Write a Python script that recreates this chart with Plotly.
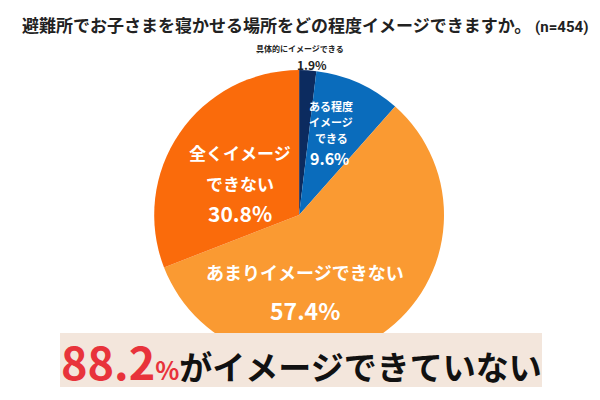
import plotly.graph_objects as go

labels = ['具体的にイメージできる', 'ある程度イメージできる', 'あまりイメージできない', '全くイメージできない']
values = [1.9, 9.6, 57.4, 30.8]
colors = ['#0c2b5f', '#0a6cbc', '#fa9a32', '#fa6b0b']
n_total = 454
summary = 88.2

font_jp = 'Noto Sans CJK JP'

pie = go.Pie(labels=labels,
             values=values,
             sort=False,
             direction='clockwise',
             rotation=0,
             marker={'colors': colors, 'line': {'width': 0}},
             textinfo='none',
             hoverinfo='label+percent',
             showlegend=False,
             domain={'x': [0.257, 0.74], 'y': [0.1, 0.825]})

fig = go.Figure(data=[pie])

def ann(x, y, text, size, color='white'):
    fig.add_annotation(x=x / 600, y=1 - y / 400, xref='paper', yref='paper',
                       xanchor='center', yanchor='middle',
                       text='<b>' + text + '</b>', showarrow=False,
                       font={'family': font_jp, 'size': size, 'color': color})

# タイトル
fig.add_annotation(x=20 / 600, y=1 - 24 / 400, xref='paper', yref='paper',
                   xanchor='left', yanchor='middle',
                   text='<b>避難所でお子さまを寝かせる場所をどの程度イメージできますか。</b>'
                        '<span style="font-family:Roboto;font-size:15px;"><b> (n=' + str(n_total) + ')</b></span>',
                   showarrow=False, font={'family': font_jp, 'size': 17, 'color': '#222222'})

# ラベル
ann(300, 48, labels[0], 8, '#222222')
ann(312, 64, '%.1f%%' % values[0], 12, '#222222')

ann(331, 106, 'ある程度', 11)
ann(331, 122, 'イメージ', 11)
ann(331, 138, 'できる', 11)
ann(330, 158, '%.1f%%' % values[1], 16)

ann(240, 152, '全くイメージ', 17)
ann(240, 183, 'できない', 17)
ann(240, 213, '%.1f%%' % values[3], 21)

ann(305, 272, labels[2], 18)
ann(305, 310, '%.1f%%' % values[2], 23)

# 下の帯
fig.add_shape(type='rect', xref='paper', yref='paper',
              x0=60 / 600, x1=542 / 600, y0=1 - 387 / 400, y1=1 - 333 / 400,
              fillcolor='#f3e6dc', line={'width': 0}, layer='above')
fig.add_annotation(x=301 / 600, y=1 - 360 / 400, xref='paper', yref='paper',
                   xanchor='center', yanchor='middle',
                   text='<b><span style="color:#e8333b;font-size:45px;">%.1f</span>'
                        '<span style="color:#e8333b;font-size:25px;">%%</span>'
                        'がイメージできていない</b>' % summary,
                   showarrow=False, font={'family': font_jp, 'size': 33, 'color': '#111111'})

fig.update_layout(width=600, height=400,
                  margin={'l': 0, 'r': 0, 't': 0, 'b': 0},
                  paper_bgcolor='white',
                  plot_bgcolor='white')

fig.write_html('out.html', config={'displayModeBar': False},
               post_script="document.body.style.margin='0';")
